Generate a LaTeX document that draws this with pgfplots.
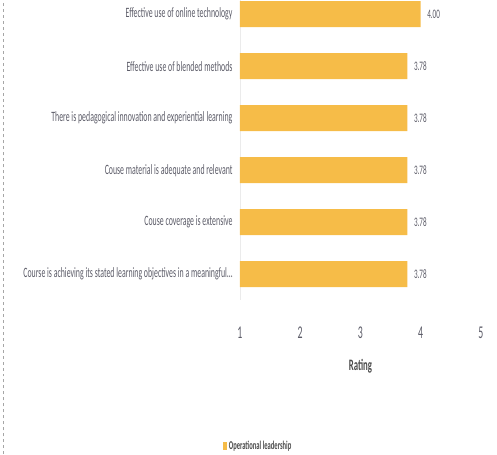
\documentclass[border=0pt]{standalone}
\usepackage{fontspec}
\setmainfont[FakeStretch=0.55]{Carlito}
\usepackage{pgfplots}
\pgfplotsset{compat=1.18}
\definecolor{barc}{RGB}{246,188,72}
\definecolor{txt}{RGB}{92,92,104}
\begin{document}
\begin{tikzpicture}
\begin{axis}[
  xbar,
  scale only axis,
  width=241bp, height=300bp,
  xmin=1, xmax=5,
  ymin=-0.5, ymax=5.27,
  xtick={1,2,3,4,5},
  ytick={0,1,2,3,4,5},
  yticklabels={{Course is achieving its stated learning objectives in a meaningful\ldots},
    {Couse coverage is extensive},
    {Couse material is adequate and relevant},
    {There is pedagogical innovation and experiential learning},
    {Effective use of blended methods},
    {Effective use of online technology}},
  major tick length=0pt,
  axis lines*=left,
  x axis line style={draw=none},
  y axis line style={draw=black!8},
  bar width=26bp,
  /pgf/number format/assume math mode=true,
  xticklabel style={font=\fontsize{18}{18}\selectfont, text=txt, yshift=-23bp},
  yticklabel style={font=\fontsize{14.3}{14.3}\selectfont, text=txt, xshift=-4bp},
  xlabel={\textbf{Rating}},
  xlabel style={font=\fontsize{16}{16}\selectfont, text=black!70, yshift=-14bp},
  nodes near coords={\pgfmathprintnumber[fixed,fixed zerofill,precision=2,assume math mode=true]{\pgfplotspointmeta}},
  nodes near coords style={font=\fontsize{13}{13}\selectfont, text=txt, xshift=3bp},
  legend style={at={(axis description cs:0.075,-0.485)}, anchor=center,
    draw=none, fill=none, font=\bfseries\fontsize{12}{12}\selectfont, text=black!70,
    inner sep=0pt},
  legend image code/.code={\fill[barc] (0bp,-4bp) rectangle (4bp,4bp);},
]
\addplot[draw=none, fill=barc] coordinates {
  (3.78,0) (3.78,1) (3.78,2) (3.78,3) (3.78,4) (4.00,5)
};
\addlegendentry{Operational leadership}
\end{axis}
\draw[dashed, black!35] (-237bp,-154bp) -- (-237bp,300bp);
\path[use as bounding box] (-240bp,-154bp) rectangle (257bp,300bp);
\end{tikzpicture}
\end{document}
